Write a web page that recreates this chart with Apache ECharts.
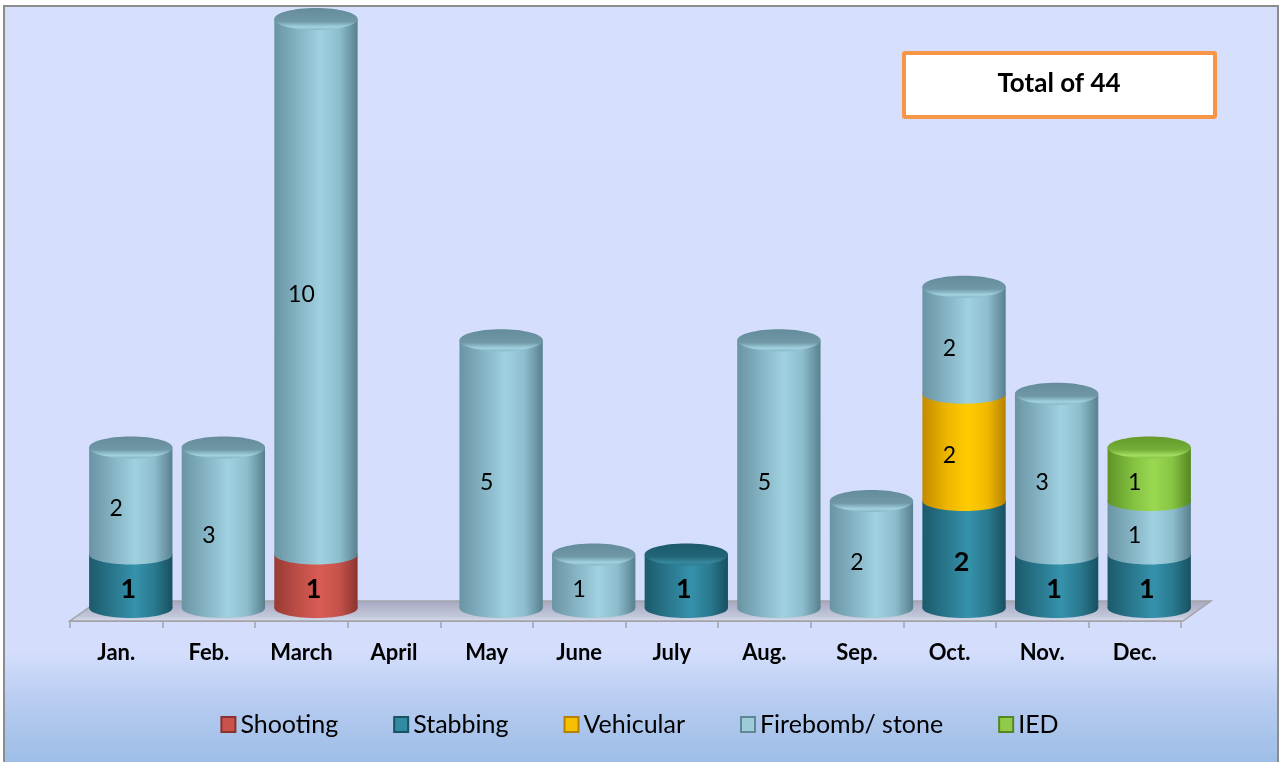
<!DOCTYPE html>
<html>
<head>
<meta charset="utf-8">
<script src="https://cdn.jsdelivr.net/npm/echarts@6/dist/echarts.min.js"></script>
<style>
html,body{margin:0;padding:0;background:#ffffff;}
#c{width:1279px;height:762px;}
</style>
</head>
<body>
<div id="c"></div>
<script>
// ---- data ----
const categories = ['Jan.', 'Feb.', 'March', 'April', 'May', 'June', 'July', 'Aug.', 'Sep.', 'Oct.', 'Nov.', 'Dec.'];
const shooting  = [0, 0, 1, 0, 0, 0, 0, 0, 0, 0, 0, 0];
const stabbing  = [1, 0, 0, 0, 0, 0, 1, 0, 0, 2, 1, 1];
const vehicular = [0, 0, 0, 0, 0, 0, 0, 0, 0, 2, 0, 0];
const firebomb  = [2, 3, 10, 0, 5, 1, 0, 5, 2, 2, 3, 1];
const ied       = [0, 0, 0, 0, 0, 0, 0, 0, 0, 0, 0, 1];
const seriesNames = ['Shooting', 'Stabbing', 'Vehicular', 'Firebomb/ stone', 'IED'];
const totalText = 'Total of 44';

// ---- styling ----
const seriesData = [shooting, stabbing, vehicular, firebomb, ied];
const palette = [
  {body:['#983a34','#bf4f48','#d95c54','#c4524b','#8c332e'], top:['#a3423c','#b14943','#d8776f','#c04f48'], legend:'#c9534c', border:'#8a322c'},
  {body:['#1c5a6c','#2a788e','#3592ab','#2a7a90','#185060'], top:['#1c586a','#226679','#37879d','#2a7a90'], legend:'#2f8aa2', border:'#1a5262'},
  {body:['#c48a00','#eeb600','#ffcc00','#f0b900','#b68100'], top:['#cf9600','#e0a800','#ffd640','#efbb00'], legend:'#f5c000', border:'#b68100'},
  {body:['#6a94a3','#86b5c5','#a0d1e1','#8ebece','#58808e'], top:['#658c9a','#6f97a6','#a2d2df','#86b5c4'], legend:'#9ccbd9', border:'#5f8795'},
  {body:['#5e9327','#82c040','#9bd852','#86c444','#558720'], top:['#649a2b','#74ae37','#a4dd62','#86c444'], legend:'#8fcb48', border:'#558720'}
];
const boldLabel = [true, true, false, false, false];

const totals = categories.map((_, i) => seriesData.reduce((s, arr) => s + arr[i], 0));

const DX = 14.5, DY = -13, RY = 10;

function bodyFill(c) {
  return {type:'linear', x:0, y:0, x2:1, y2:0, colorStops:[
    {offset:0, color:c[0]}, {offset:0.3, color:c[1]}, {offset:0.55, color:c[2]},
    {offset:0.78, color:c[3]}, {offset:1, color:c[4]}]};
}
function topFill(c) {
  return {type:'linear', x:0, y:0, x2:0, y2:1, colorStops:[
    {offset:0, color:c[0]}, {offset:0.6, color:c[1]}, {offset:0.86, color:c[2]}, {offset:1, color:c[3]}]};
}

function makeRender(sIdx) {
  const pal = palette[sIdx];
  return function (params, api) {
    const i = api.value(0), v = api.value(1), base = api.value(2);
    if (!v) return null;
    const p0 = api.coord([i, base]);
    const p1 = api.coord([i, base + v]);
    const bw = api.size([1, 0])[0] * 0.9;
    const cx = p0[0] + DX;
    const y0 = p0[1] + DY, y1 = p1[1] + DY;
    const rx = bw / 2;
    const children = [
      {type:'rect', shape:{x:cx - rx, y:y1, width:bw, height:y0 - y1}, style:{fill:bodyFill(pal.body)}},
      {type:'ellipse', shape:{cx:cx, cy:y0, rx:rx, ry:RY}, style:{fill:bodyFill(pal.body)}}
    ];
    if (base + v === totals[i]) {
      children.push({type:'ellipse', shape:{cx:cx, cy:y1, rx:rx, ry:RY + 1}, style:{fill:topFill(pal.top)}});
    }
    const bold = boldLabel[sIdx];
    children.push({
      type:'text',
      style:{
        text:String(v), x:p0[0] + (bold ? 12 : 0), y:(y0 + y1) / 2 + 8,
        fill:'#000000', font:(bold ? 'bold 27px' : '23px') + ' Lato',
        align:'center', verticalAlign:'middle', textAlign:'center', textVerticalAlign:'middle'
      }
    });
    return {type:'group', children:children};
  };
}

const series = seriesNames.map((name, s) => ({
  name: name,
  type: 'custom',
  z: 3 + s,
  renderItem: makeRender(s),
  encode: {x: 0, y: 1},
  itemStyle: {color: palette[s].legend, borderColor: palette[s].border, borderWidth: 1},
  data: categories.map((_, i) => {
    let base = 0;
    for (let k = 0; k < s; k++) base += seriesData[k][i];
    return [i, seriesData[s][i], base];
  })
}));

series.unshift({
  name: 'floor',
  type: 'custom',
  z: 1,
  silent: true,
  renderItem: function (params, api) {
    const cs = params.coordSys;
    const yb = cs.y + cs.height, xl = cs.x, xr = cs.x + cs.width;
    return {type:'group', children:[
      {type:'polygon', shape:{points:[[xl, yb], [xr + 2, yb], [xr + 30, yb - 20], [xl + 28, yb - 20]]},
       style:{fill:{type:'linear', x:0, y:0, x2:0, y2:1, colorStops:[{offset:0, color:'#a4a7bf'}, {offset:0.75, color:'#c3c7da'}, {offset:1, color:'#d9def0'}]},
              stroke:'#a3a3a8', lineWidth:1.5}}
    ]};
  },
  data: [[0, 0]]
});

const chart = echarts.init(document.getElementById('c'), null, {renderer: 'canvas'});
chart.setOption({
  backgroundColor: '#ffffff',
  animation: false,
  graphic: [
    {type:'rect', z:-10, shape:{x:4, y:6, width:1274, height:758},
     style:{fill:{type:'linear', x:0, y:0, x2:0, y2:1, colorStops:[
       {offset:0, color:'#d6e0fd'}, {offset:0.85, color:'#d4defc'}, {offset:0.92, color:'#b6cbf0'}, {offset:1, color:'#9cbde6'}]},
       stroke:'#8c8c8c', lineWidth:2}},
    {type:'group', z:10, children:[
      {type:'rect', shape:{x:904, y:53, width:311, height:64, r:1},
       style:{fill:'#ffffff', stroke:'#f79646', lineWidth:4}},
      {type:'text', style:{text:totalText, x:1059, y:84, font:'bold 26px Lato', fill:'#000000',
        align:'center', verticalAlign:'middle', textAlign:'center', textVerticalAlign:'middle'}}
    ]}
  ],
  legend: {
    data: seriesNames,
    bottom: 20,
    left: 'center',
    icon: 'rect',
    itemWidth: 14,
    itemHeight: 15,
    itemGap: 55,
    textStyle: {fontFamily: 'Lato', fontSize: 25, color: '#000000'}
  },
  grid: {left: 70, right: 98, top: 0, bottom: 141, containLabel: false},
  xAxis: {
    type: 'category',
    data: categories,
    axisLine: {lineStyle: {color: '#a3a3a8', width: 2}},
    axisTick: {show: true, length: 7, lineStyle: {color: '#a3a3a8', width: 1.5}},
    axisLabel: {fontFamily: 'Lato', fontWeight: 'bold', fontSize: 22, color: '#000000', margin: 21, interval: 0},
    splitLine: {show: false}
  },
  yAxis: {
    type: 'value', min: 0, max: 11.6, show: false, splitLine: {show: false}
  },
  series: series
});
</script>
</body>
</html>
